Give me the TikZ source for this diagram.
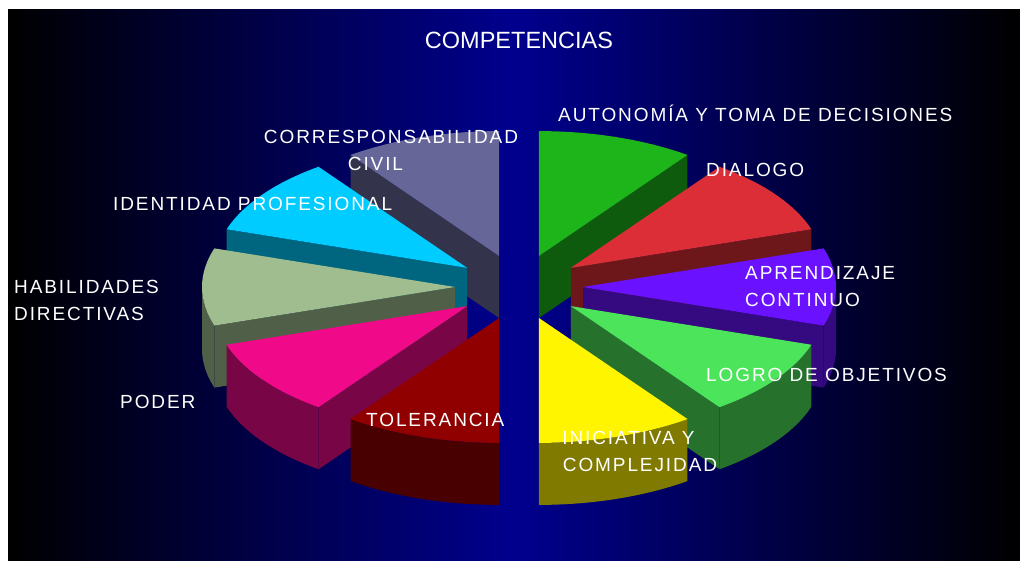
\documentclass[tikz,border=0pt]{standalone}
\usepackage{fontspec}
\setmainfont{Liberation Sans}
\newfontfamily\etiqfont[LetterSpace=10]{Liberation Sans}
\usetikzlibrary{positioning}

\definecolor{fondo}{RGB}{0,0,142}
\definecolor{autonomia}{RGB}{29,181,26}
\definecolor{dialogo}{RGB}{220,46,54}
\definecolor{aprendizaje}{RGB}{106,18,255}
\definecolor{logro}{RGB}{76,228,90}
\definecolor{iniciativa}{RGB}{255,245,0}
\definecolor{tolerancia}{RGB}{144,0,0}
\definecolor{poder}{RGB}{240,10,138}
\definecolor{habilidades}{RGB}{159,189,143}
\definecolor{identidad}{RGB}{0,204,255}
\definecolor{corresp}{RGB}{102,102,153}

\begin{document}
\begin{tikzpicture}[x=1pt, y=1pt,
    etiq/.style={text=white, inner sep=0pt, font=\etiqfont\fontsize{19}{27}\selectfont},
    titulo/.style={text=white, inner sep=0pt, font=\fontsize{23.5}{28}\selectfont}]
    % Fondo
    \useasboundingbox (0,0) rectangle (1020,560);
    \shade[left color=black, right color=black, middle color=fondo] (8,0) rectangle (1020,550);

    % Rebanadas (de atras hacia adelante)
    \foreach \a/\b/\col/\face/\cs/\ce in {
        54/90/autonomia/54/0/0, 90/126/corresp/126/0/0,
        18/54/dialogo/18/0/0, 126/162/identidad/162/0/0,
        -18/18/aprendizaje/-18/-18/0, 162/198/habilidades/198/180/198,
        -54/-18/logro/-54/-54/-18, 198/234/poder/234/198/234,
        -90/-54/iniciativa/999/-90/-54, 234/270/tolerancia/999/234/270} {
        \pgfmathsetmacro\m{(\a+\b)/2}
        \coordinate (apex) at ({519+64*cos(\m)}, {273+32.5*sin(\m)});
        % cara radial
        \ifnum\face<999
            \fill[\col!50!black] (apex) -- ([shift={(\face:253pt and 125pt)}]apex)
                -- ++(0,-62) -- ([yshift=-62pt]apex) -- cycle;
        \fi
        % cara curva
        \ifnum\cs=\ce\else
            \fill[\col!50!black] ([shift={(\cs:253pt and 125pt)}]apex)
                arc[start angle=\cs, end angle=\ce, x radius=253pt, y radius=125pt]
                -- ++(0,-62)
                arc[start angle=\ce, end angle=\cs, x radius=253pt, y radius=125pt] -- cycle;
        \fi
        % tapa
        \fill[\col] (apex) -- ([shift={(\a:253pt and 125pt)}]apex)
            arc[start angle=\a, end angle=\b, x radius=253pt, y radius=125pt] -- cycle;
    }

    % Titulo
    \node[titulo] (titulo) at (519,520) {COMPETENCIAS};

    % Etiquetas
    \node[etiq, anchor=west] (autonomia) at (558,447) {AUTONOMÍA Y TOMA DE DECISIONES};
    \node[etiq, anchor=west] (dialogo) at (706,390) {DIALOGO};
    \node[etiq, anchor=west, align=left] (aprendizaje) at (745,273.5) {APRENDIZAJE\\CONTINUO};
    \node[etiq, anchor=west] (logro) at (706,185) {LOGRO DE OBJETIVOS};
    \node[etiq, align=center] (iniciativa) at (640,109) {INICIATIVA Y\hspace*{23pt}\\COMPLEJIDAD};
    \node[etiq, anchor=west] (tolerancia) at (366,140) {TOLERANCIA};
    \node[etiq, anchor=west] (poder) at (120,158) {PODER};
    \node[etiq, anchor=west, align=left] (habilidades) at (14,259.5) {HABILIDADES\\DIRECTIVAS};
    \node[etiq, anchor=west] (identidad) at (113,356) {IDENTIDAD PROFESIONAL};
    \node[etiq, align=center] (corresp) at (391,410) {CORRESPONSABILIDAD\\CIVIL\hspace*{31pt}};
\end{tikzpicture}
\end{document}
